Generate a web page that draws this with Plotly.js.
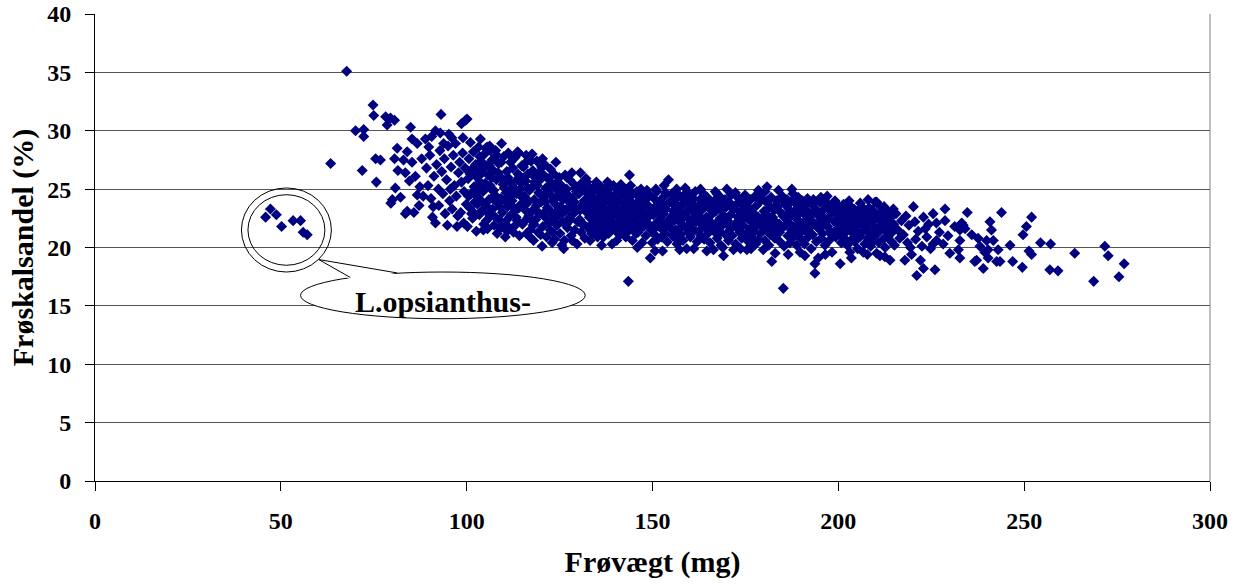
<!DOCTYPE html>
<html><head><meta charset="utf-8">
<script src="https://cdn.plot.ly/plotly-3.0.1.min.js"></script>
<style>html,body{margin:0;padding:0;background:#fff}#chart{width:1242px;height:586px}</style>
</head><body><div id="chart"></div>
<script>
const xTickVals = [0, 50, 100, 150, 200, 250, 300];
const yTickVals = [0, 5, 10, 15, 20, 25, 30, 35, 40];
const xTitle = 'Frøvægt (mg)';
const yTitle = 'Frøskalsandel (%)';
const calloutText = 'L.opsianthus-';

// [frøvægt mg, frøskalsandel %]
const opsianthus = [[47.2,23.3],[45.9,22.6],[48.8,22.8],[50.2,21.8],[53.3,22.3],[55.3,22.3],[56.0,21.3],[57.1,21.1]];

const seeds60to88 = [[63.4,27.2],[67.7,35.1],[70.1,30.0],[72.3,30.1],[72.3,29.5],[71.9,26.6],[74.8,32.2],[75.0,31.3],[75.5,27.6],[76.8,27.5],[75.7,25.6],[78.2,31.2],[79.5,31.1],[80.6,30.9],[78.6,30.5],[80.6,27.6],[81.5,26.6],[81.3,28.5],[84.0,28.2],[83.0,27.5],[85.3,27.3],[84.9,30.3],[85.3,29.3],[86.7,28.9],[80.0,24.1],[82.2,24.3],[84.0,23.1],[86.7,24.5],[80.8,25.1],[79.6,23.8],[83.5,26.4],[84.6,25.7],[86.2,26.1],[87.4,25.2],[85.8,23.0],[87.9,27.6],[88.9,29.3],[87.2,23.6],[88.3,24.4],[83.5,22.9]];

const seeds88to100 = [[89.2,26.8],[89.6,25.3],[90.1,27.9],[90.4,24.2],[90.8,22.6],[91.6,30.0],[92.9,29.8],[93.1,31.4],[91.6,22.1],[92.5,23.6],[91.2,26.1],[91.9,27.1],[92.4,25.0],[92.8,28.3],[93.3,26.5],[93.6,24.6],[94.0,27.6],[94.2,22.9],[94.6,25.8],[95.2,29.7],[95.0,28.7],[95.4,24.0],[95.8,26.9],[96.1,23.3],[96.4,27.9],[96.7,25.3],[97.0,28.9],[97.4,21.8],[97.2,24.4],[97.8,26.4],[98.1,27.3],[98.4,23.0],[98.6,25.6],[98.9,28.1],[99.2,22.1],[99.3,24.8],[99.7,30.9],[99.6,26.8],[99.9,23.7],[96.0,29.4],[94.8,21.9],[93.8,28.9],[89.8,28.6],[90.6,29.5],[97.6,22.7],[99.0,29.4],[91.0,23.5],[95.6,25.0],[98.6,30.6],[100.1,31.0]];

const seeds100to115 = [[100.2,21.8],[100.4,25.9],[100.6,27.6],[100.8,23.4],[101.0,29.0],[101.2,24.6],[101.4,26.7],[101.6,22.5],[101.8,28.2],[102.0,25.2],[102.2,23.9],[102.4,27.1],[102.6,21.4],[102.8,26.0],[103.0,24.3],[103.2,28.6],[103.4,22.8],[103.7,29.3],[103.6,25.6],[103.8,27.4],[104.0,23.1],[104.2,26.4],[104.4,24.8],[104.6,22.0],[104.8,28.0],[105.0,25.5],[105.2,23.6],[105.4,27.0],[105.6,21.6],[105.8,26.2],[106.0,24.1],[106.2,28.7],[106.4,22.7],[106.6,25.0],[106.8,27.5],[107.0,23.3],[107.2,26.6],[107.4,21.9],[107.6,24.5],[107.8,28.3],[108.0,25.8],[108.2,21.2],[108.4,23.8],[108.6,27.2],[108.8,22.4],[109.0,26.0],[109.2,24.2],[109.4,28.9],[109.6,23.0],[109.8,25.4],[110.0,27.8],[110.4,20.9],[110.2,22.1],[110.6,24.7],[110.8,26.5],[111.0,23.5],[111.2,28.1],[111.4,21.7],[111.6,25.6],[111.8,27.3],[112.0,22.8],[112.2,24.0],[112.4,26.8],[112.6,21.3],[112.8,25.1],[113.0,27.7],[113.2,23.2],[113.4,24.6],[113.6,22.3],[113.8,26.3],[114.0,28.1],[114.2,21.0],[114.4,25.0],[114.6,23.7],[114.8,27.0],[115.0,22.0],[115.3,26.9],[100.9,26.3],[101.9,23.0],[102.7,24.7],[103.3,26.9],[104.5,21.5],[105.1,28.5],[105.9,22.9],[106.7,26.0],[107.3,24.9],[108.1,27.9],[108.9,23.5],[109.5,25.9],[110.3,24.0],[111.1,26.0],[111.9,24.4],[112.7,23.4],[113.5,25.8],[114.3,26.1],[114.9,24.3],[103.9,24.0],[106.3,25.3],[109.1,21.7],[111.5,22.6],[113.1,21.9],[105.5,28.6],[106.4,28.3],[113.7,28.2],
  [100.5,24.4],[101.3,22.9],[102.1,26.5],[102.9,23.7],[103.5,27.8],[104.1,25.1],[104.7,26.9],[105.3,22.3],[106.1,27.0],[106.9,24.2],[107.7,22.6],[108.5,26.4],[109.3,27.3],[110.1,25.1],[110.9,21.4],[111.7,24.9],[112.5,27.6],[113.3,22.6],[114.1,23.4],[114.7,25.5]];

const seeds115to130 = [[117.8,26.6],[120.7,26.2],[119.8,25.8],[126.5,26.2],[128.3,26.4],[120.3,20.1],[126.1,19.9],[129.7,20.3],[117.1,21.5],[118.0,20.6],[115.5,24.4],[115.7,22.3],[115.9,25.7],[116.1,21.2],[116.3,23.8],[116.5,26.3],[116.7,22.7],[116.9,24.9],[117.3,27.4],[117.5,23.1],[117.7,25.2],[117.9,21.9],[118.2,24.1],[118.4,26.0],[118.6,22.4],[118.8,23.6],[119.0,25.3],[119.2,21.3],[119.4,24.7],[119.6,22.9],[120.0,23.9],[120.2,26.9],[120.5,21.8],[120.9,24.3],[121.1,22.6],[121.3,25.1],[121.5,20.9],[121.7,23.4],[121.9,25.9],[122.1,22.1],[122.3,24.6],[122.5,21.5],[122.7,23.0],[122.9,25.5],[123.1,24.0],[123.3,22.4],[123.5,26.3],[123.7,20.7],[123.9,23.7],[124.1,25.0],[124.3,21.9],[124.5,24.4],[124.7,22.8],[124.9,26.0],[125.1,21.2],[125.3,23.5],[125.5,25.3],[125.7,22.2],[125.9,24.1],[126.3,20.6],[126.7,23.2],[126.9,25.0],[127.1,21.7],[127.3,24.5],[127.5,22.5],[127.7,25.8],[127.9,23.6],[128.1,21.0],[128.5,24.2],[128.7,22.9],[128.9,25.4],[129.1,21.5],[129.3,23.3],[129.5,24.8],[129.9,22.2],[116.0,27.9],[118.9,27.4],[121.0,27.1],[124.0,27.3],[122.6,26.7],[117.0,20.9],[119.9,21.1],[123.0,20.4],[125.6,20.2],[128.4,20.6],[115.8,23.2],[118.1,22.0],[120.6,22.9],[121.8,24.8],[124.2,23.1],[126.2,24.7],[127.6,23.9],[129.0,23.9],[126.8,22.0],[122.0,23.3],[119.1,23.0],[116.6,24.0],
  [115.6,27.2],[116.4,25.1],[117.2,22.4],[118.3,25.6],[119.3,26.4],[120.1,24.5],[121.2,23.9],[122.2,25.3],[123.2,21.3],[124.4,25.6],[125.2,24.6],[126.0,23.0],[127.0,26.0],[128.0,22.4],[129.2,25.1],[120.4,27.6],[117.6,28.0]];

const seeds130to150 = [[132.4,25.6],[138.6,25.2],[139.5,25.3],[143.8,26.2],[145.8,24.8],[148.5,24.9],[148.5,24.2],[133.2,20.6],[136.8,20.9],[140.4,20.6],[149.4,19.1],[143.5,17.1],[130.2,24.6],[130.4,22.4],[130.6,26.4],[130.8,21.3],[131.0,23.6],[131.2,25.1],[131.4,22.0],[131.6,24.0],[131.8,20.8],[132.0,23.1],[132.2,24.7],[132.6,21.7],[132.8,23.9],[133.0,22.6],[133.4,25.0],[133.6,21.2],[133.8,24.3],[134.0,22.9],[134.2,23.6],[134.4,21.8],[134.6,25.3],[134.8,22.3],[135.0,24.1],[135.2,20.9],[135.4,23.2],[135.6,24.8],[135.8,22.0],[136.0,23.8],[136.2,21.4],[136.4,24.5],[136.6,22.7],[137.0,23.4],[137.2,25.0],[137.4,21.6],[137.6,24.0],[137.8,22.2],[138.0,23.0],[138.2,21.2],[138.4,24.6],[138.8,22.5],[139.0,23.7],[139.2,21.8],[139.4,24.2],[139.8,22.9],[140.0,23.4],[140.2,21.4],[140.6,24.7],[140.8,22.1],[141.0,23.9],[141.2,21.1],[141.4,22.6],[141.6,24.4],[141.8,23.2],[142.0,21.7],[142.2,25.1],[142.4,22.4],[142.6,23.8],[142.8,20.9],[143.0,24.5],[143.2,22.8],[143.6,23.5],[143.8,21.5],[144.0,24.0],[144.2,22.2],[144.4,23.1],[144.6,20.6],[144.8,24.6],[145.0,21.9],[145.2,23.6],[145.4,22.5],[145.6,21.2],[146.0,23.9],[146.2,22.0],[146.4,24.3],[146.6,21.6],[146.8,23.3],[147.0,22.7],[147.2,20.4],[147.4,24.1],[147.6,21.8],[147.8,23.0],[148.0,22.3],[148.2,21.0],[148.8,23.6],[149.0,22.0],[149.2,24.5],[149.6,21.5],[149.8,23.2],[136.3,20.2],[145.9,20.0],[149.9,20.4],[139.1,20.3],[130.9,25.5],[132.9,24.2],[134.9,25.6],[137.9,25.6],[141.5,25.4],[143.3,25.0],[146.9,25.0],[133.7,22.0],[135.7,22.6],[138.5,23.3],[140.5,22.9],[142.9,22.0],[144.5,22.7],[146.5,23.0],[148.7,22.6],
  [130.5,23.2],[131.3,21.9],[132.1,25.9],[133.1,23.4],[134.1,24.8],[135.1,21.5],[136.1,25.2],[137.1,22.0],[138.1,24.2],[139.3,22.1],[140.3,25.0],[141.1,22.3],[142.1,23.3],[143.1,21.3],[144.1,25.3],[145.1,23.0],[146.1,21.3],[147.1,23.8],[148.1,24.6],[149.1,22.7]];

const seeds150to175 = [[154.3,25.8],[158.8,25.1],[161.5,24.8],[163.7,24.6],[166.9,24.8],[170.0,25.0],[174.9,24.5],[156.6,20.3],[159.2,19.9],[166.4,19.8],[169.1,19.3],[171.8,19.8],[175.4,19.8],[150.2,22.8],[150.4,24.2],[150.6,21.1],[150.8,23.5],[151.0,22.1],[151.2,24.8],[151.4,20.7],[151.6,23.0],[151.8,21.8],[152.0,24.0],[152.2,22.5],[152.4,20.9],[152.6,23.7],[152.8,21.5],[153.0,22.9],[153.2,24.4],[153.4,21.2],[153.6,23.3],[153.8,22.1],[154.0,20.5],[154.6,23.9],[154.8,21.7],[155.0,22.6],[155.2,24.6],[155.4,21.0],[155.6,23.1],[155.8,22.3],[156.0,24.1],[156.2,20.8],[156.4,22.8],[156.8,23.6],[157.0,21.5],[157.2,22.2],[157.4,24.4],[157.6,21.1],[157.8,23.0],[158.0,22.5],[158.2,20.6],[158.4,23.8],[158.6,21.8],[159.0,22.9],[159.4,24.0],[159.6,21.3],[159.8,23.3],[160.0,22.0],[160.2,20.9],[160.4,23.7],[160.6,22.4],[160.8,21.6],[161.0,24.2],[161.2,23.0],[161.8,22.2],[162.0,20.5],[162.2,23.5],[162.4,21.4],[162.6,22.7],[162.8,24.1],[163.0,21.0],[163.2,23.2],[163.4,22.0],[163.9,20.7],[164.1,23.8],[164.3,21.7],[164.5,22.6],[164.7,24.3],[164.9,21.2],[165.1,23.4],[165.3,22.3],[165.5,20.4],[165.7,23.9],[165.9,21.9],[166.1,22.9],[166.6,24.0],[166.8,21.3],[167.0,23.1],[167.2,22.1],[167.4,20.8],[167.6,23.6],[167.8,21.6],[168.0,24.4],[168.2,22.5],[168.4,20.2],[168.6,23.2],[168.8,21.9],[169.3,22.7],[169.5,24.1],[169.7,21.1],[169.9,23.5],[170.2,22.3],[170.4,20.6],[170.6,23.9],[170.8,21.5],[171.0,22.8],[171.2,24.5],[171.4,21.0],[172.0,23.3],[172.2,22.0],[172.4,20.3],[172.6,23.7],[172.8,21.7],[173.0,22.6],[173.2,24.2],[173.4,21.3],[173.6,23.0],[173.8,22.3],[174.0,20.8],[174.2,23.6],[174.4,21.9],[174.6,22.9],[175.0,23.9],[175.2,21.2],[150.9,25.0],[153.1,25.3],[156.5,25.0],[159.9,24.6],[162.9,25.0],[152.7,19.7],[157.3,19.8],[161.1,19.9],[164.6,19.7],[168.9,20.0],[173.7,19.9],[150.7,19.7],
  [150.5,21.6],[151.5,23.4],[152.5,22.0],[153.5,24.7],[154.5,22.3],[155.5,23.7],[156.3,21.5],[157.5,23.5],[158.5,24.5],[159.5,22.5],[160.5,21.2],[161.5,23.5],[162.5,22.3],[163.5,24.3],[164.4,22.2],[165.4,21.5],[166.3,23.3],[167.3,24.6],[168.3,21.3],[169.2,23.9],[170.3,21.9],[171.3,23.4],[172.3,24.7],[173.3,22.0],[174.3,21.1]];

const seeds175to200 = [[180.3,24.8],[183.9,24.9],[189.2,24.3],[193.3,24.1],[196.9,23.8],[179.8,19.8],[182.1,18.8],[185.2,16.5],[189.7,19.6],[193.7,17.8],[194.6,19.1],[193.7,18.6],[175.6,22.5],[175.8,20.5],[176.0,23.4],[176.2,21.6],[176.4,24.1],[176.6,22.2],[176.8,20.9],[177.0,23.0],[177.2,21.4],[177.4,22.8],[177.6,24.4],[177.8,20.3],[178.0,23.6],[178.2,21.9],[178.4,22.6],[178.6,20.7],[178.8,23.9],[179.0,21.2],[179.2,22.3],[179.4,24.2],[179.6,21.8],[180.0,23.1],[180.2,20.6],[180.5,22.9],[180.7,21.5],[180.9,23.8],[181.1,22.1],[181.3,20.2],[181.5,23.4],[181.7,21.1],[181.9,24.3],[182.3,22.6],[182.5,21.7],[182.7,23.2],[182.9,20.8],[183.1,22.2],[183.3,24.0],[183.5,21.3],[183.7,23.5],[184.1,22.0],[184.3,20.5],[184.5,23.0],[184.7,21.6],[184.9,24.4],[185.1,22.7],[185.4,20.1],[185.6,23.7],[185.8,21.9],[186.0,22.4],[186.2,24.1],[186.4,21.0],[186.6,23.3],[186.8,22.1],[187.0,20.4],[187.2,23.9],[187.4,21.5],[187.6,22.8],[187.8,24.6],[188.0,20.9],[188.2,23.1],[188.4,21.8],[188.6,22.5],[188.8,20.2],[189.0,23.6],[189.4,21.3],[189.6,22.2],[189.9,23.4],[190.1,20.7],[190.3,24.0],[190.5,21.9],[190.7,22.9],[190.9,20.3],[191.1,23.2],[191.3,21.4],[191.5,22.4],[191.7,24.2],[191.9,20.9],[192.1,23.0],[192.3,21.7],[192.5,22.7],[192.7,19.9],[192.9,23.7],[193.1,21.1],[193.5,22.1],[193.9,23.3],[194.1,20.5],[194.4,22.8],[194.8,21.6],[195.0,23.9],[195.2,22.3],[195.4,20.8],[195.6,23.1],[195.8,21.2],[196.0,22.6],[196.2,24.1],[196.4,20.2],[196.6,23.5],[197.1,21.8],[197.3,22.4],[197.5,20.6],[197.7,23.2],[197.9,21.4],[198.1,22.9],[198.3,19.6],[198.5,23.7],[198.7,21.0],[198.9,22.2],[199.1,24.0],[199.3,20.9],[199.5,23.0],[199.7,21.6],[199.9,22.5],[176.5,19.9],[178.5,24.9],[183.0,19.5],[186.5,19.4],[191.0,19.3],[196.5,19.4],[187.5,25.0],[197.0,24.4],[180.8,25.2],
  [175.5,23.0],[176.9,21.2],[177.9,22.2],[178.9,24.4],[179.9,22.6],[181.0,24.0],[182.0,21.3],[183.2,23.6],[184.2,21.3],[185.3,24.0],[186.3,22.8],[187.3,21.2],[188.3,24.2],[189.3,22.9],[190.2,21.4],[191.2,23.6],[192.2,22.3],[193.2,23.0],[194.2,21.8],[195.3,24.3],[196.3,22.0],[197.2,23.6],[198.2,21.1],[199.2,23.4]];

const seeds200to215 = [[200.0,23.6],[203.6,23.4],[206.3,23.5],[209.9,23.9],[210.3,23.9],[214.8,23.3],[200.5,18.6],[203.1,19.6],[206.7,19.6],[211.2,19.3],[213.9,18.9],[210.3,19.5],[200.2,22.4],[200.4,21.1],[200.6,23.2],[200.8,20.4],[201.0,22.0],[201.2,21.6],[201.4,23.7],[201.6,20.8],[201.8,22.7],[202.0,21.3],[202.2,23.0],[202.4,20.2],[202.6,22.1],[202.8,21.7],[203.0,22.9],[203.3,20.6],[203.8,22.5],[204.0,21.2],[204.2,23.3],[204.4,20.5],[204.6,22.2],[204.8,21.5],[205.0,22.8],[205.2,19.9],[205.4,21.9],[205.6,23.1],[205.8,20.9],[206.0,22.4],[206.5,21.3],[206.9,22.0],[207.1,20.3],[207.3,23.0],[207.5,21.7],[207.7,22.6],[207.9,20.8],[208.1,21.4],[208.3,23.4],[208.5,22.1],[208.7,20.1],[208.9,22.8],[209.1,21.0],[209.3,22.3],[209.5,20.6],[209.7,21.8],[210.1,22.9],[210.5,21.2],[210.7,22.5],[210.9,20.4],[211.4,21.6],[211.6,23.0],[211.8,22.0],[212.0,20.7],[212.2,21.9],[212.4,22.7],[212.6,20.0],[212.8,21.4],[213.0,23.2],[213.2,22.2],[213.4,20.9],[213.6,21.7],[214.1,22.6],[214.3,20.5],[214.5,21.3],[214.9,22.0],[215.1,20.2],[202.9,24.0],[205.9,23.8],[208.0,24.1],[211.0,23.6],[203.5,19.1],[207.8,19.4],[212.5,19.2],
  [200.3,21.5],[201.3,22.5],[202.3,23.4],[203.2,21.9],[204.3,22.8],[205.3,21.1],[206.2,22.9],[207.2,21.9],[208.2,22.4],[209.2,23.2],[210.2,21.4],[211.2,22.3],[212.3,23.5],[213.3,21.9],[214.2,22.9]];

const seeds215to280 = [[215.5,22.9],[216.0,21.5],[216.5,20.8],[217.0,22.3],[217.5,21.1],[217.9,18.9],[218.2,22.7],[218.6,20.4],[219.0,21.9],[219.4,20.0],[219.7,19.4],[220.2,23.5],[220.6,22.2],[220.8,20.7],[221.1,17.6],[221.5,21.4],[222.1,18.9],[222.5,20.1],[222.9,22.6],[222.9,18.2],[223.4,21.6],[223.8,20.9],[224.3,22.0],[224.8,19.9],[225.5,22.9],[225.5,20.3],[226.0,18.1],[226.4,22.1],[226.4,20.6],[227.2,21.3],[228.2,20.3],[228.7,23.3],[228.7,22.3],[229.5,21.0],[230.0,19.5],[231.3,21.8],[232.3,19.8],[232.7,20.6],[232.7,21.5],[232.7,19.1],[233.2,22.1],[233.6,21.9],[234.1,21.6],[234.7,23.0],[235.9,21.1],[236.7,18.8],[237.2,18.9],[237.6,20.8],[238.1,20.1],[239.0,18.2],[239.4,19.6],[239.9,20.6],[240.3,19.1],[240.3,19.8],[240.8,22.2],[241.2,21.5],[241.7,20.6],[242.6,18.8],[243.0,19.8],[243.5,18.8],[243.9,23.0],[246.2,20.2],[246.9,18.8],[249.5,18.3],[249.7,21.1],[250.6,21.8],[251.3,19.7],[252.0,19.4],[252.0,22.6],[254.4,20.4],[256.9,18.1],[257.1,20.3],[259.1,18.0],[263.6,19.5],[268.7,17.1],[271.7,20.1],[272.6,19.3],[275.5,17.5],[276.9,18.6]];

const allSeeds = [].concat(opsianthus, seeds60to88, seeds88to100, seeds100to115, seeds115to130,
  seeds130to150, seeds150to175, seeds175to200, seeds200to215, seeds215to280);
const frovaegt = allSeeds.map(p => p[0]);
const froskalsandel = allSeeds.map(p => p[1]);

const FONT = 'Liberation Serif, Times New Roman, serif';
const bold = v => '<b>' + v + '</b>';

const trace = {
  x: frovaegt, y: froskalsandel, type: 'scatter', mode: 'markers',
  marker: {symbol: 'diamond', size: 8.5, color: '#000080', line: {width: 0}},
  hoverinfo: 'x+y', showlegend: false
};

const layout = {
  width: 1242, height: 586,
  margin: {l: 95, r: 32, t: 14, b: 105},
  paper_bgcolor: '#fff', plot_bgcolor: '#fff',
  font: {family: FONT, color: '#000'},
  xaxis: {
    range: [0, 300], tickvals: xTickVals, ticktext: xTickVals.map(bold),
    ticks: 'outside', ticklen: 9, tickwidth: 1, tickcolor: '#000',
    showline: true, linecolor: '#000', linewidth: 1,
    showgrid: false, zeroline: false, ticklabelstandoff: 9,
    tickfont: {family: FONT, size: 24, color: '#000'},
    title: {text: bold(xTitle), font: {family: FONT, size: 30, color: '#000'}, standoff: 18}
  },
  yaxis: {
    range: [0, 40], tickvals: yTickVals, ticktext: yTickVals.map(bold),
    ticks: 'outside', ticklen: 9, tickwidth: 1, tickcolor: '#000',
    showline: true, linecolor: '#000', linewidth: 1,
    showgrid: true, gridcolor: '#555', gridwidth: 1, zeroline: false, ticklabelstandoff: 9,
    tickfont: {family: FONT, size: 24, color: '#000'},
    title: {text: bold(yTitle), font: {family: FONT, size: 30, color: '#000'}, standoff: 4}
  },
  shapes: [
    {type: 'line', xref: 'paper', yref: 'paper', x0: 1, x1: 1, y0: 0, y1: 1, line: {color: '#808080', width: 1}},
    {type: 'circle', xref: 'x', yref: 'y', x0: 39.4, x1: 63.6, y0: 17.9, y1: 25.1, line: {color: '#000', width: 1}},
    {type: 'circle', xref: 'x', yref: 'y', x0: 41.15, x1: 61.85, y0: 18.48, y1: 24.52, line: {color: '#000', width: 1}},
    {type: 'circle', xref: 'x', yref: 'y', x0: 55.3, x1: 131.9, y0: 13.9, y1: 17.9, fillcolor: '#fff', line: {color: '#000', width: 1}},
    {type: 'path', xref: 'x', yref: 'y', path: 'M 68.7 17.25 L 60.2 18.97 L 81.3 17.7 L 81.3 17.5 L 68.7 17.1 Z', fillcolor: '#fff', line: {width: 0}},
    {type: 'path', xref: 'x', yref: 'y', path: 'M 68.7 17.43 L 60.2 18.97 L 81.3 17.82', fillcolor: 'rgba(0,0,0,0)', line: {color: '#000', width: 1}}
  ],
  annotations: [
    {xref: 'x', yref: 'y', x: 93.6, y: 15.4, text: bold(calloutText), showarrow: false,
     font: {family: FONT, size: 30, color: '#000'}, xanchor: 'center', yanchor: 'middle'}
  ]
};

Plotly.newPlot('chart', [trace], layout, {displayModeBar: false, staticPlot: true});
</script></body></html>
